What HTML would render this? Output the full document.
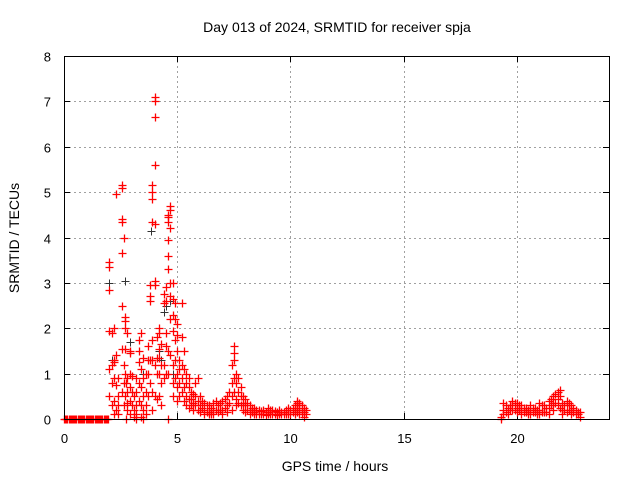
<!DOCTYPE html>
<html><head><meta charset="utf-8"><style>
body{margin:0;background:#fff}
svg{display:block;font-family:"Liberation Sans",sans-serif}
</style></head><body>
<svg id="chart" width="640" height="480">
<text x="337" y="32" font-size="14" text-anchor="middle">Day 013 of 2024, SRMTID for receiver spja</text>
<text x="335" y="471" font-size="14" text-anchor="middle">GPS time / hours</text>
<text transform="translate(19,238) rotate(-90)" font-size="14" text-anchor="middle">SRMTID / TECUs</text>
<g id="grid"></g><g id="ticks"></g><g id="marks"></g>
<rect x="64.5" y="56.5" width="545" height="363" fill="none" stroke="#000"/>
</svg>
<script>
const xTicks=[0,5,10,15,20];
const yTicks=[0,1,2,3,4,5,6,7,8];
const redTimes=[0,0.05,0.1,0.15,0.2,0.25,0.3,0.35,0.4,0.45,
0.5,0.55,0.6,0.65,0.7,0.75,0.8,0.85,0.9,0.95,
1.0,1.05,1.1,1.15,1.2,1.25,1.3,1.35,1.4,1.45,
1.5,1.55,1.6,1.65,1.7,1.75,1.8,1.85,1.9,1.95,
2.0,2.1,2.2,2.3,2.4,2.55,2.65,2.7,2.75,2.8,2.9,
3.0,3.1,3.2,3.3,3.4,3.5,3.6,3.7,3.8,3.9,
4.0,4.1,4.2,4.3,4.4,4.5,4.6,4.7,4.8,4.9,
5.0,5.1,5.2,5.3,5.4,5.5,5.6,5.7,5.8,5.9,
6.0,6.1,6.2,6.3,6.4,6.5,6.6,6.7,6.8,6.9,
7.0,7.1,7.2,7.3,7.4,7.5,7.6,7.7,7.8,7.9,
8.0,8.1,8.2,8.3,8.4,8.5,8.6,8.7,8.8,8.9,
9.0,9.1,9.2,9.3,9.4,9.5,9.6,9.7,9.8,9.9,
10.0,10.1,10.2,10.3,10.4,10.5,10.6,10.7,
19.3,19.4,19.5,19.6,19.7,19.8,19.9,20.0,20.1,20.2,20.3,20.4,20.5,20.6,20.7,20.8,20.9,
21.0,21.1,21.2,21.3,21.4,21.5,21.6,21.7,21.8,21.9,22.0,22.1,22.2,22.3,22.4,22.5,22.6,22.7,22.8];
const redValues=[[0],[0],[0],[0],[0],[0],[0],[0],[0],[0],
[0],[0],[0],[0],[0],[0],[0],[0],[0],[0],
[0],[0],[0],[0],[0],[0],[0],[0],[0],[0],
[0],[0],[0],[0],[0],[0],[0],[0],[0],[0],
[2.85,3.35,3.45,1.95,1.1,0.5],[1.9,1.2,0.8,0.3],[1.3,1.25,0.9,0.4,0.1,2.0],[4.95,1.4,0.75,0.2],[0.9,0.5,0.3,0.1],
[5.1,5.15,4.35,4.4,3.65,2.5,1.55,0.6],[4.0,1.2,0.8,0.3],[2.15,2.25,2.0,1.55,1.0,0.5],[0,0.8],[1.9,0.9,0.6,0.35,0.2],[1.5,1.45,1.0,0.7,0.4,0.1],
[0.95,0.6,0.3],[0.5,0.2,0.05],[0.9,0.6,0.3,0.1,0],[1.75,1.5,1.25,0.8,0.4],[1.9,1.1,0.7,0.3,0.05],
[1.35,0.9,0.5,0.2,0],[1.0,0.6,0.3,0.1],[1.6,1.3,1.0,0.5],[2.7,2.95,2.6,1.3,0.8],[5.0,5.15,4.85,4.35,1.75,1.3,0.6,0.2],
[7.1,7.0,6.65,5.6,4.3,3.05,2.95,1.2,0.5],[1.8,1.35,1.0,0.45],[2.0,1.9,1.55,1.35,1.0,0.5],[1.65,1.2,0.8,0.3],[2.75,2.55,1.2,0.9],
[2.9,2.6,1.9,1.6,1.0],[4.45,4.5,4.35,3.95,3.6,3.3,1.5,1.0,0],[4.6,4.7,4.2,3.0,2.7,2.2,1.4],[3.0,2.65,2.3,1.95,1.2,0.8,0.5],[2.55,2.2,1.75,1.3,0.9],
[2.1,1.85,1.5,1.0,0.7,0.4],[1.3,1.1,0.8,0.5],[2.55,1.8,1.2,0.9,0.6],[1.5,1.1,0.7,0.4],[1.0,0.8,0.5,0.3],
[0.9,0.7,0.45,0.25],[0.6,0.45,0.3],[0.55,0.35,0.2],[0.8,0.5,0.3],[0.9,0.4,0.2],
[0.5,0.3,0.15],[0.4,0.25],[0.35,0.2,0.1],[0.3,0.15],[0.3,0.15,0.1],[0.25,0.1],[0.35,0.2,0.1],[0.4,0.2],[0.3,0.15],[0.35,0.2],
[0.4,0.2,0.1],[0.45,0.25],[0.5,0.3,0.15],[0.6,0.35],[1.2,0.8,0.5,0.2],[1.6,1.45,1.3,0.9,0.6],[1.0,0.8,0.45,0.3],[0.9,0.6,0.35],[0.7,0.5,0.3],[0.5,0.35,0.2],
[0.45,0.3,0.15],[0.35,0.2],[0.3,0.2,0.1],[0.25,0.15],[0.25,0.15,0.1],[0.2,0.1],[0.2,0.12],[0.18,0.1],[0.2,0.1],[0.15,0.08],
[0.25,0.15,0.1],[0.2,0.1],[0.2,0.1],[0.18,0.1],[0.15,0.08],[0.2,0.12],[0.15,0.1],[0.15,0.1],[0.2,0.1],[0.25,0.1],
[0.2,0.1],[0.25,0.15],[0.3,0.2,0.1],[0.4,0.35,0.25,0.15],[0.35,0.3,0.2,0.1],[0.3,0.2,0.1],[0.25,0.15,0.05],[0.2,0.1],
[0,0.05],[0.35,0.2,0.1],[0.3,0.15],[0.25,0.1],[0.3,0.2],[0.4,0.3,0.2],[0.35,0.2],[0.35,0.25,0.15],[0.3,0.2],[0.3,0.2,0.1],[0.25,0.15],[0.25,0.15],[0.2,0.1],[0.3,0.2,0.1],[0.25,0.15],[0.25,0.15],[0.2,0.1],
[0.35,0.2,0.1],[0.3,0.15],[0.3,0.15],[0.25,0.15],[0.4,0.25,0.1],[0.45,0.3],[0.5,0.35,0.2],[0.55,0.35],[0.6,0.45,0.3],[0.65,0.5,0.25],[0.35,0.2,0.1],[0.3,0.2],[0.4,0.3,0.15],[0.35,0.2],[0.3,0.2,0.1],[0.25,0.15],[0.2,0.1],[0.15,0.1],[0.15,0.05]];
const blackTimes=[4.0,4.0,3.9,3.85,2.65,2.7,2.0,4.6,4.7,4.5,4.4,4.2,4.3,2.9,3.5,2.1,7.5,4.8];
const blackValues=[7.0,5.6,4.85,4.15,4.0,3.05,3.0,3.3,2.6,2.5,2.35,1.5,1.3,1.7,1.0,1.3,1.3,1.0];
const X0=64,X1=609,Y0=419,Y1=56,XMAX=24.07,YMAX=8;
const sx=t=>X0+t/XMAX*(X1-X0);
const sy=v=>Y0-v/YMAX*(Y0-Y1);
const NS="http://www.w3.org/2000/svg";
function mk(tag,attrs,parent){const e=document.createElementNS(NS,tag);for(const k in attrs)e.setAttribute(k,attrs[k]);parent.appendChild(e);return e;}
const grid=document.getElementById('grid'),ticks=document.getElementById('ticks'),marks=document.getElementById('marks');
xTicks.forEach(t=>{const x=Math.round(sx(t))+0.5;
 if(t>0){const g=mk('line',{x1:x,x2:x,y1:Y1,y2:Y0,stroke:'#a0a0a0','stroke-dasharray':'2,3'},grid);
 
 }
 mk('line',{x1:x,x2:x,y1:Y0,y2:Y0-6,stroke:'#000'},ticks);mk('line',{x1:x,x2:x,y1:Y1,y2:Y1+6,stroke:'#000'},ticks);
 const l=mk('text',{x:x,y:443,'font-size':13,'text-anchor':'middle'},ticks);l.textContent=t;
 
 });
yTicks.forEach(v=>{const y=Math.round(sy(v))+0.5;
 if(v>0&&v<8){const g=mk('line',{x1:X0,x2:X1,y1:y,y2:y,stroke:'#a0a0a0','stroke-dasharray':'2,3'},grid);
 
 }
 mk('line',{x1:X0,x2:X0+6,y1:y,y2:y,stroke:'#000'},ticks);mk('line',{x1:X1,x2:X1-6,y1:y,y2:y,stroke:'#000'},ticks);
 const l=mk('text',{x:51,y:y+5,'font-size':13,'text-anchor':'end'},ticks);l.textContent=v;
 
 });
function plus(t,v,c,w,name){const x=Math.round(sx(t))+0.5,y=Math.round(sy(v))+0.5;
 const p=mk('path',{d:`M${x-4} ${y}H${x+4}M${x} ${y-4}V${y+4}`,stroke:c,'stroke-width':w,fill:'none'},marks);
 
 }
blackTimes.forEach((t,i)=>plus(t,blackValues[i],'#333333',1,'black-point'));
redTimes.forEach((t,i)=>(redValues[i]||[]).forEach(v=>plus(t,v,'#ff0000',1.3,'red-point')));
</script>
</body></html>
